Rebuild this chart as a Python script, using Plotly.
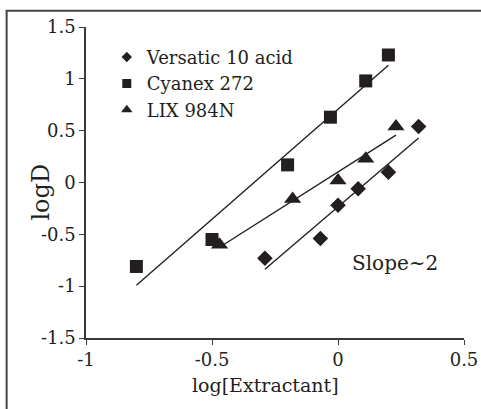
import numpy as np
import plotly.graph_objects as go

# log[Extractant] vs logD
versatic_x = [-0.29, -0.07, 0.0, 0.08, 0.20, 0.32]
versatic_y = [-0.73, -0.54, -0.22, -0.06, 0.10, 0.54]

cyanex_x = [-0.80, -0.50, -0.20, -0.03, 0.11, 0.20]
cyanex_y = [-0.81, -0.55, 0.17, 0.63, 0.98, 1.23]

lix_x = [-0.47, -0.18, 0.0, 0.11, 0.23]
lix_y = [-0.60, -0.16, 0.02, 0.23, 0.54]

series = [
    ("Versatic 10 acid", versatic_x, versatic_y, "diamond", 12, 8),
    ("Cyanex 272", cyanex_x, cyanex_y, "square", 13, 9),
    ("LIX 984N", lix_x, lix_y, "triangle-up", 15, 10),
]

INK = "#231f20"
FONT = "DejaVu Serif"

fig = go.Figure()

for name, xs, ys, sym, size, leg_size in series:
    # linear trendline through the points (spans the data range)
    k, b = np.polyfit(xs, ys, 1)
    fx = [min(xs), max(xs)]
    fig.add_trace(
        go.Scatter(
            x=fx,
            y=[k * v + b for v in fx],
            mode="lines",
            line=dict(color=INK, width=1.4),
            showlegend=False,
            hoverinfo="skip",
        )
    )
    fig.add_trace(
        go.Scatter(
            x=xs,
            y=ys,
            mode="markers",
            marker=dict(symbol=sym, size=size, color=INK),
            showlegend=False,
            name=name,
        )
    )
    # legend entry with the smaller symbol
    fig.add_trace(
        go.Scatter(
            x=[None],
            y=[None],
            mode="markers",
            marker=dict(symbol=sym, size=leg_size, color=INK),
            name=name,
        )
    )

fig.add_annotation(
    x=0.225,
    y=-0.775,
    text="Slope~2",
    showarrow=False,
    font=dict(family=FONT, size=20, color=INK),
)

# axis titles
fig.add_annotation(
    xref="paper",
    yref="paper",
    x=0.476,
    y=-0.15,
    yanchor="middle",
    text="log[Extractant]",
    showarrow=False,
    font=dict(family=FONT, size=19, color=INK),
)
fig.add_annotation(
    xref="paper",
    yref="paper",
    x=-0.162,
    y=0.47,
    textangle=-90,
    text="logD",
    showarrow=False,
    font=dict(family=FONT, size=24, color=INK),
)

# outer frame of the original figure (only left/top edges fall inside)
fig.add_shape(
    type="rect",
    xref="paper",
    yref="paper",
    x0=-0.21,
    x1=1.5,
    y0=-1.5,
    y1=1.052,
    line=dict(color="#444444", width=2),
)

axis_common = dict(
    showgrid=False,
    zeroline=False,
    showline=True,
    automargin=False,
    linecolor="#3a3a3a",
    linewidth=1.5,
    ticks="outside",
    ticklen=5,
    tickwidth=1.2,
    tickcolor="#3a3a3a",
    tickfont=dict(family=FONT, size=18, color=INK),
)

fig.update_layout(
    width=481,
    height=409,
    margin=dict(l=86, r=17, t=27, b=71),
    paper_bgcolor="white",
    plot_bgcolor="white",
    xaxis=dict(
        range=[-1, 0.5],
        tickvals=[-1, -0.5, 0, 0.5],
        ticktext=["-1", "-0.5", "0", "0.5"],
        **axis_common,
    ),
    yaxis=dict(
        range=[-1.5, 1.5],
        tickvals=[-1.5, -1, -0.5, 0, 0.5, 1, 1.5],
        ticktext=["-1.5", "-1", "-0.5", "0", "0.5", "1", "1.5"],
        **axis_common,
    ),
    legend=dict(
        x=0.055,
        y=0.962,
        xanchor="left",
        yanchor="top",
        bgcolor="rgba(0,0,0,0)",
        font=dict(family=FONT, size=18, color=INK),
        tracegroupgap=0,
    ),
)

# page body has a default 8px margin; drop it so the figure sits at 0,0
fig.write_html(
    "out.html",
    config={"displayModeBar": False},
    post_script="document.body.style.margin='0';",
)
